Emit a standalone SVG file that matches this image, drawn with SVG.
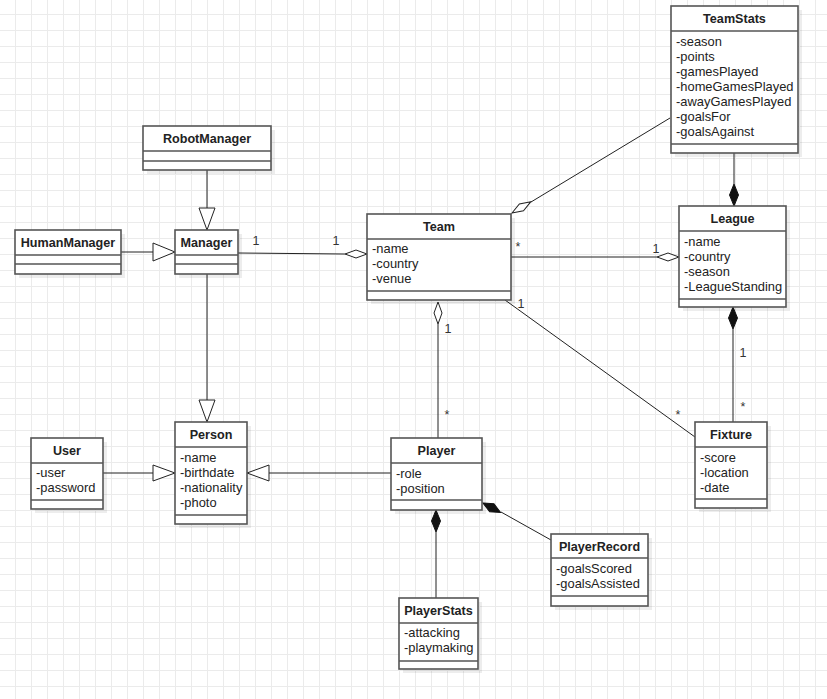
<svg xmlns="http://www.w3.org/2000/svg" width="827" height="699" viewBox="0 0 827 699">
<style>
.box{fill:#fff;stroke:#555;stroke-width:1.6}
.sh{fill:#000;opacity:0.07}
.sep{stroke:#555;stroke-width:1.6}
.t{font-family:"Liberation Sans",Arial,sans-serif;font-size:12.9px;fill:#222}
.h{font-family:"Liberation Sans",Arial,sans-serif;font-size:12.6px;font-weight:bold;fill:#222;text-anchor:middle}
.c{stroke:#222;stroke-width:1;fill:none}
.tri{fill:#fff;stroke:#222;stroke-width:1}
.od{fill:#fff;stroke:#222;stroke-width:1}
.fd{fill:#111;stroke:#111;stroke-width:1}
.lb{font-family:"Liberation Sans",Arial,sans-serif;font-size:12.5px;fill:#333;text-anchor:middle}
</style>
<defs>
<pattern id="grid" patternUnits="userSpaceOnUse" x="15" y="14" width="16" height="16">
<path d="M0.5 0 V16 M0 0.5 H16" stroke="#ebebeb" stroke-width="1" fill="none"/>
</pattern>
</defs>
<rect width="827" height="699" fill="#fff"/>
<rect width="827" height="699" fill="url(#grid)"/>

<g id="connectors">
<!-- RobotManager -> Manager -->
<line class="c" x1="207" y1="170" x2="207" y2="208"/>
<polygon class="tri" points="199,208 215,208 207,230"/>
<!-- HumanManager -> Manager -->
<line class="c" x1="121" y1="252" x2="153" y2="252"/>
<polygon class="tri" points="153,243 153,261 175,252"/>
<!-- Manager -> Person -->
<line class="c" x1="207" y1="274" x2="207" y2="400"/>
<polygon class="tri" points="199,400 215,400 207,422"/>
<!-- User -> Person -->
<line class="c" x1="103" y1="473" x2="153" y2="473"/>
<polygon class="tri" points="153,465 153,481 175,473"/>
<!-- Player -> Person -->
<line class="c" x1="391" y1="473" x2="269" y2="473"/>
<polygon class="tri" points="269,465 269,481 247,473"/>
<!-- Manager - Team -->
<line class="c" x1="238" y1="253" x2="345" y2="254"/>
<polygon class="od" points="367,254 356,250 345,254 356,258"/>
<!-- Team - League -->
<line class="c" x1="511" y1="257" x2="657" y2="257"/>
<polygon class="od" points="679,257 668,253 657,257 668,261"/>
<!-- Team - TeamStats -->
<line class="c" x1="531" y1="202" x2="670" y2="118"/>
<polygon class="od" points="0,0 11,-4 22,0 11,4" transform="translate(512,213) rotate(-31)"/>
<!-- Team - Player -->
<line class="c" x1="438" y1="324" x2="438" y2="438"/>
<polygon class="od" points="438,302 434,313 438,324 442,313"/>
<!-- TeamStats - League -->
<line class="c" x1="734" y1="153" x2="734" y2="184"/>
<polygon class="fd" points="734,184 729.5,195 734,206 738.5,195"/>
<!-- League - Fixture -->
<line class="c" x1="733" y1="329" x2="733" y2="422"/>
<polygon class="fd" points="733,307 728.5,318 733,329 737.5,318"/>
<!-- Team - Fixture -->
<line class="c" x1="505" y1="300" x2="695" y2="437"/>
<!-- Player - PlayerStats -->
<line class="c" x1="436" y1="532" x2="436" y2="598"/>
<polygon class="fd" points="436,510 431.5,521 436,532 440.5,521"/>
<!-- Player - PlayerRecord -->
<line class="c" x1="501" y1="512" x2="551" y2="540"/>
<polygon class="fd" points="0,0 10,-4.5 20,0 10,4.5" transform="translate(483,503) rotate(28.5)"/>
<!-- multiplicities -->
<text class="lb" x="256" y="245">1</text>
<text class="lb" x="336" y="245">1</text>
<text class="lb" x="518" y="251">*</text>
<text class="lb" x="656" y="253">1</text>
<text class="lb" x="448" y="333">1</text>
<text class="lb" x="447" y="419">*</text>
<text class="lb" x="521" y="308">1</text>
<text class="lb" x="678" y="419">*</text>
<text class="lb" x="743" y="357">1</text>
<text class="lb" x="743" y="411">*</text>
</g>

<g id="TeamStats">
<rect class="sh" x="675" y="10" width="127" height="147"/>
<rect class="box" x="671" y="6" width="127" height="147"/>
<line class="sep" x1="671" y1="31" x2="798" y2="31"/>
<line class="sep" x1="671" y1="144" x2="798" y2="144"/>
<text class="h" x="734.5" y="23">TeamStats</text>
<text class="t" x="676" y="46">-season</text>
<text class="t" x="676" y="61">-points</text>
<text class="t" x="676" y="76">-gamesPlayed</text>
<text class="t" x="676" y="91">-homeGamesPlayed</text>
<text class="t" x="676" y="106">-awayGamesPlayed</text>
<text class="t" x="676" y="121">-goalsFor</text>
<text class="t" x="676" y="136">-goalsAgainst</text>
</g>

<g id="RobotManager">
<rect class="sh" x="147" y="130" width="128" height="44"/>
<rect class="box" x="143" y="126" width="128" height="44"/>
<line class="sep" x1="143" y1="151" x2="271" y2="151"/>
<line class="sep" x1="143" y1="161" x2="271" y2="161"/>
<text class="h" x="207" y="143">RobotManager</text>
</g>

<g id="HumanManager">
<rect class="sh" x="19" y="234" width="106" height="44"/>
<rect class="box" x="15" y="230" width="106" height="44"/>
<line class="sep" x1="15" y1="255" x2="121" y2="255"/>
<line class="sep" x1="15" y1="264" x2="121" y2="264"/>
<text class="h" x="68" y="247">HumanManager</text>
</g>

<g id="Manager">
<rect class="sh" x="179" y="234" width="63" height="44"/>
<rect class="box" x="175" y="230" width="63" height="44"/>
<line class="sep" x1="175" y1="255" x2="238" y2="255"/>
<line class="sep" x1="175" y1="264" x2="238" y2="264"/>
<text class="h" x="206.5" y="247">Manager</text>
</g>

<g id="Team">
<rect class="sh" x="371" y="218" width="144" height="86"/>
<rect class="box" x="367" y="214" width="144" height="86"/>
<line class="sep" x1="367" y1="239" x2="511" y2="239"/>
<line class="sep" x1="367" y1="291" x2="511" y2="291"/>
<text class="h" x="439" y="231">Team</text>
<text class="t" x="372" y="253">-name</text>
<text class="t" x="372" y="268">-country</text>
<text class="t" x="372" y="283">-venue</text>
</g>

<g id="League">
<rect class="sh" x="683" y="210" width="107" height="101"/>
<rect class="box" x="679" y="206" width="107" height="101"/>
<line class="sep" x1="679" y1="231" x2="786" y2="231"/>
<line class="sep" x1="679" y1="299" x2="786" y2="299"/>
<text class="h" x="732.5" y="223">League</text>
<text class="t" x="684" y="246">-name</text>
<text class="t" x="684" y="261">-country</text>
<text class="t" x="684" y="276">-season</text>
<text class="t" x="684" y="291">-LeagueStanding</text>
</g>

<g id="User">
<rect class="sh" x="35" y="442" width="72" height="71"/>
<rect class="box" x="31" y="438" width="72" height="71"/>
<line class="sep" x1="31" y1="463" x2="103" y2="463"/>
<line class="sep" x1="31" y1="500" x2="103" y2="500"/>
<text class="h" x="67" y="455">User</text>
<text class="t" x="36" y="477">-user</text>
<text class="t" x="36" y="492">-password</text>
</g>

<g id="Person">
<rect class="sh" x="179" y="426" width="72" height="102"/>
<rect class="box" x="175" y="422" width="72" height="102"/>
<line class="sep" x1="175" y1="447" x2="247" y2="447"/>
<line class="sep" x1="175" y1="515" x2="247" y2="515"/>
<text class="h" x="211" y="439">Person</text>
<text class="t" x="180" y="462">-name</text>
<text class="t" x="180" y="477">-birthdate</text>
<text class="t" x="180" y="492">-nationality</text>
<text class="t" x="180" y="507">-photo</text>
</g>

<g id="Player">
<rect class="sh" x="395" y="442" width="91" height="72"/>
<rect class="box" x="391" y="438" width="91" height="72"/>
<line class="sep" x1="391" y1="463" x2="482" y2="463"/>
<line class="sep" x1="391" y1="500" x2="482" y2="500"/>
<text class="h" x="436.5" y="455">Player</text>
<text class="t" x="396" y="478">-role</text>
<text class="t" x="396" y="493">-position</text>
</g>

<g id="Fixture">
<rect class="sh" x="699" y="426" width="72" height="86"/>
<rect class="box" x="695" y="422" width="72" height="86"/>
<line class="sep" x1="695" y1="447" x2="767" y2="447"/>
<line class="sep" x1="695" y1="499" x2="767" y2="499"/>
<text class="h" x="731" y="439">Fixture</text>
<text class="t" x="700" y="462">-score</text>
<text class="t" x="700" y="477">-location</text>
<text class="t" x="700" y="492">-date</text>
</g>

<g id="PlayerRecord">
<rect class="sh" x="555" y="538" width="97" height="72"/>
<rect class="box" x="551" y="534" width="97" height="72"/>
<line class="sep" x1="551" y1="558" x2="648" y2="558"/>
<line class="sep" x1="551" y1="596" x2="648" y2="596"/>
<text class="h" x="599.5" y="551">PlayerRecord</text>
<text class="t" x="556" y="573">-goalsScored</text>
<text class="t" x="556" y="588">-goalsAssisted</text>
</g>

<g id="PlayerStats">
<rect class="sh" x="403" y="602" width="79" height="71"/>
<rect class="box" x="399" y="598" width="79" height="71"/>
<line class="sep" x1="399" y1="623" x2="478" y2="623"/>
<line class="sep" x1="399" y1="661" x2="478" y2="661"/>
<text class="h" x="438.5" y="615">PlayerStats</text>
<text class="t" x="404" y="637">-attacking</text>
<text class="t" x="404" y="652">-playmaking</text>
</g>
</svg>
